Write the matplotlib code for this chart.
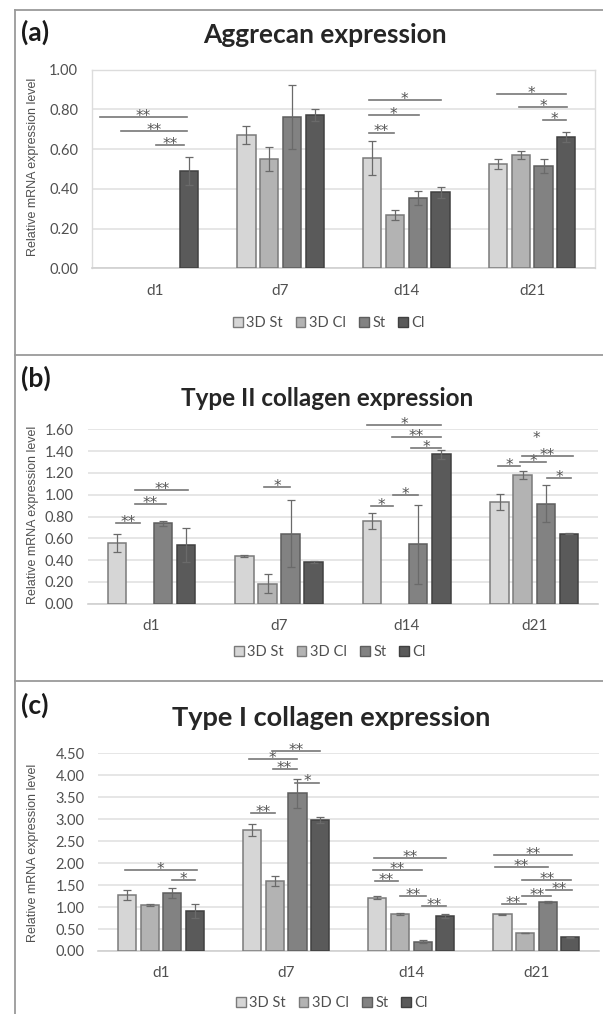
import numpy as np
import matplotlib
matplotlib.use("Agg")
import matplotlib.pyplot as plt
from matplotlib.patches import Patch
from matplotlib.lines import Line2D

W, H = 603, 1014

groups = ["d1", "d7", "d14", "d21"]
series = ["3D St", "3D Cl", "St", "Cl"]

# (a) Aggrecan
agg_3dst = [0.0, 0.67, 0.555, 0.525]
agg_3dcl = [0.0, 0.55, 0.27, 0.57]
agg_st = [0.0, 0.76, 0.355, 0.515]
agg_cl = [0.49, 0.772, 0.382, 0.662]
agg_3dst_err = [0.0, 0.045, 0.085, 0.025]
agg_3dcl_err = [0.0, 0.06, 0.025, 0.02]
agg_st_err = [0.0, 0.16, 0.035, 0.037]
agg_cl_err = [0.072, 0.03, 0.027, 0.025]

# (b) Type II collagen
c2_3dst = [0.554, 0.44, 0.761, 0.936]
c2_3dcl = [0.0, 0.183, 0.0, 1.183]
c2_st = [0.738, 0.642, 0.545, 0.917]
c2_cl = [0.539, 0.383, 1.37, 0.642]
c2_3dst_err = [0.083, 0.008, 0.074, 0.073]
c2_3dcl_err = [0.0, 0.087, 0.0, 0.037]
c2_st_err = [0.023, 0.306, 0.36, 0.17]
c2_cl_err = [0.155, 0.008, 0.04, 0.004]

# (c) Type I collagen
c1_3dst = [1.276, 2.756, 1.214, 0.836]
c1_3dcl = [1.055, 1.595, 0.836, 0.41]
c1_st = [1.314, 3.592, 0.212, 1.109]
c1_cl = [0.911, 2.984, 0.797, 0.312]
c1_3dst_err = [0.12, 0.14, 0.04, 0.01]
c1_3dcl_err = [0.02, 0.12, 0.02, 0.01]
c1_st_err = [0.11, 0.33, 0.03, 0.02]
c1_cl_err = [0.17, 0.075, 0.05, 0.01]

# significance: (group, from bar, to bar, level, label)
agg_sig = [
    (0, -0.9, 2.9, 0.759, "**"),
    (0, 0.0, 2.9, 0.692, "**"),
    (0, 1.55, 2.8, 0.618, "**"),
    (2, -0.15, 3.0, 0.846, "*"),
    (2, -0.15, 2.05, 0.770, "*"),
    (2, -0.15, 0.96, 0.683, "**"),
    (3, -0.06, 3.0, 0.876, "*"),
    (3, 0.93, 3.05, 0.812, "*"),
    (3, 1.98, 3.0, 0.745, "*"),
]
c2_sig = [
    (0, -0.03, 1.02, 0.738, "**"),
    (0, 0.77, 2.11, 0.912, "**"),
    (0, 0.8, 3.1, 1.043, "**"),
    (1, 0.86, 1.99, 1.068, "*"),
    (2, -0.23, 3.0, 1.64, "*"),
    (2, 0.87, 3.0, 1.527, "**"),
    (2, 1.71, 3.0, 1.426, "*"),
    (2, -0.06, 0.9, 0.896, "*"),
    (2, 0.93, 2.0, 0.997, "*"),
    (3, -0.06, 0.89, 1.266, "*"),
    (3, 0.96, 3.17, 1.358, "**"),
    (3, 0.89, 2.0, 1.303, "*"),
    (3, 2.04, 3.1, 1.156, "*"),
    (3, 1.6, 1.6, 1.51, "*"),
]
c1_sig = [
    (0, -0.09, 3.07, 1.838, "*"),
    (0, 1.97, 3.0, 1.61, "*"),
    (1, 0.86, 2.99, 4.56, "**"),
    (1, -0.14, 1.96, 4.37, "*"),
    (1, 0.9, 1.96, 4.146, "**"),
    (1, 1.89, 2.96, 3.834, "*"),
    (1, -0.05, 1.0, 3.136, "**"),
    (2, -0.14, 3.05, 2.125, "**"),
    (2, -0.21, 1.99, 1.845, "**"),
    (2, -0.11, 0.92, 1.594, "**"),
    (2, 0.99, 2.17, 1.253, "**"),
    (2, 1.99, 3.05, 1.025, "**"),
    (3, -0.37, 3.09, 2.18, "**"),
    (3, -0.34, 2.01, 1.92, "**"),
    (3, 0.88, 3.04, 1.61, "**"),
    (3, 1.94, 3.07, 1.396, "**"),
    (3, 0.88, 2.16, 1.253, "**"),
    (3, -0.04, 1.03, 1.07, "**"),
]

fills = ["#d6d6d6", "#b3b3b3", "#828282", "#5a5a5a"]
edges = ["#7a7a7a", "#7a7a7a", "#5e5e5e", "#404040"]
PITCH = 0.181
BW = 0.145

fig = plt.figure(figsize=(W / 100, H / 100), dpi=100)
fig.patch.set_facecolor("white")


def rect(l, r, t, b):
    return [l / W, 1 - b / H, (r - l) / W, (b - t) / H]


def ftext(x, y, s, **kw):
    fig.text(x / W, 1 - y / H, s, **kw)


def panel(box, vals, errs, sig, ymax, ystep, title, letter, title_xy, title_size,
          letter_xy, ylab_y, legend_xy, framed):
    ax = fig.add_axes(rect(*box))
    x = np.arange(len(groups))
    for i, (v, e) in enumerate(zip(vals, errs)):
        v = np.array(v); e = np.array(e)
        m = v > 0
        xs = x + (i - 1.5) * PITCH
        ax.bar(xs[m], v[m], width=BW, color=fills[i], edgecolor=edges[i],
               linewidth=1.1, zorder=3, label=series[i])
        ax.errorbar(xs[m], v[m], yerr=e[m], fmt="none", ecolor="#6a6a6a",
                    elinewidth=0.9, capsize=3, capthick=0.9, zorder=4)
    ax.set_xlim(-0.5, len(groups) - 0.5)
    ax.set_ylim(0, ymax)
    ax.set_yticks(np.arange(0, ymax + 1e-9, ystep))
    ax.set_yticklabels([f"{t:.2f}" for t in np.arange(0, ymax + 1e-9, ystep)])
    ax.set_xticks(x)
    ax.set_xticklabels(groups)
    ax.tick_params(axis="y", length=0, pad=10, labelsize=10.5, labelcolor="#505050")
    ax.tick_params(axis="x", length=0, pad=11, labelsize=11, labelcolor="#505050")
    for lab in ax.get_xticklabels() + ax.get_yticklabels():
        lab.set_fontfamily("Lato")
    ax.grid(axis="y", color="#e2e2e2", linewidth=1.2, zorder=0)
    ax.set_axisbelow(True)
    for s in ["top", "right", "left"]:
        ax.spines[s].set_visible(framed)
        ax.spines[s].set_color("#dcdcdc")
        ax.spines[s].set_linewidth(1.0)
    ax.spines["bottom"].set_color("#d0d0d0")
    ax.spines["bottom"].set_linewidth(1.2)
    for g, b0, b1, yv, lab in sig:
        x0 = g + (b0 - 1.5) * PITCH
        x1 = g + (b1 - 1.5) * PITCH
        if b1 != b0:
            ax.plot([x0, x1], [yv, yv], color="#777777", linewidth=1.2,
                    clip_on=False, zorder=5)
        ax.annotate(lab, xy=((x0 + x1) / 2, yv), xytext=(0, -2.8),
                    textcoords="offset points", ha="center", va="baseline",
                    fontsize=11, color="#555555", family="DejaVu Sans",
                    annotation_clip=False)
    ftext(*title_xy, title, ha="center", va="center", fontsize=title_size,
          fontweight="bold", family="Lato", color="#262626")
    ftext(*letter_xy, letter, ha="left", va="center", fontsize=19,
          fontweight="bold", family="Lato", color="#1a1a1a")
    ftext(33, ylab_y, "Relative mRNA expression level", rotation=90,
          ha="center", va="center", fontsize=9, family="Liberation Sans",
          color="#505050")
    handles = [Patch(facecolor=fills[i], edgecolor=edges[i], linewidth=1.0)
               for i in range(4)]
    fig.legend(handles, series, loc="center",
               bbox_to_anchor=(legend_xy[0] / W, 1 - legend_xy[1] / H),
               ncol=4, frameon=False, handlelength=0.65, handleheight=0.65,
               handletextpad=0.25, columnspacing=0.9,
               prop={"family": "Lato", "size": 10.5}, labelcolor="#505050")
    return ax


panel((92, 595, 69.5, 268.3),
      [agg_3dst, agg_3dcl, agg_st, agg_cl],
      [agg_3dst_err, agg_3dcl_err, agg_st_err, agg_cl_err],
      agg_sig, 1.0, 0.2, "Aggrecan expression", "(a)",
      (325, 35), 19, (21, 32), 167, (329, 323), True)
panel((87.7, 598, 429.3, 603.7),
      [c2_3dst, c2_3dcl, c2_st, c2_cl],
      [c2_3dst_err, c2_3dcl_err, c2_st_err, c2_cl_err],
      c2_sig, 1.6, 0.2, "Type II collagen expression", "(b)",
      (327, 398), 17.5, (21, 378), 515, (330, 652), False)
panel((98.4, 599, 753.3, 951),
      [c1_3dst, c1_3dcl, c1_st, c1_cl],
      [c1_3dst_err, c1_3dcl_err, c1_st_err, c1_cl_err],
      c1_sig, 4.5, 0.5, "Type I collagen expression", "(c)",
      (331, 718), 19.5, (21, 705), 853, (332, 1003), False)

# panel frames
bc = "#9a9a9a"
for (x0, y0, x1, y1) in [(14.5, 10, 14.5, 1014), (14.5, 10, 603, 10),
                         (14.5, 355, 603, 355), (14.5, 681, 603, 681)]:
    fig.add_artist(Line2D([x0 / W, x1 / W], [1 - y0 / H, 1 - y1 / H],
                          color=bc, linewidth=1.3))

fig.savefig("out.png", dpi=100, facecolor="white")
